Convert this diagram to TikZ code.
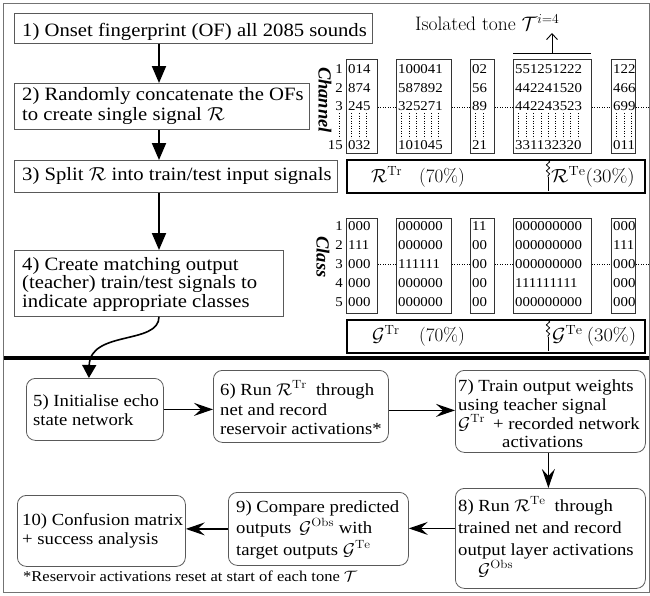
\RequirePackage{fix-cm}
\documentclass[tikz,border=0pt]{standalone}
\usepackage{fontspec}
\usepackage{graphicx}
\usetikzlibrary{arrows.meta,decorations.pathmorphing}
\newfontfamily\tnr{Liberation Serif}
\newcommand\fsz[2]{\fontsize{#1}{#2}\selectfont}
\newcommand\sx[1]{\scalebox{1.1}[1]{#1}}
\tikzset{
  frame/.style={draw=black!55, line width=0.8pt},
  sqbox/.style={draw=black!65, line width=0.8pt, anchor=north west, inner sep=0pt},
  rbox/.style={draw=black!65, line width=0.8pt, rounded corners=9pt, anchor=north west, inner sep=0pt},
  toptxt/.style={anchor=base west, inner sep=0pt, font=\tnr\fsz{18.8}{18}},
  bottxt/.style={anchor=base west, inner sep=0pt, font=\tnr\fsz{17}{17}},
  bigarr/.style={line width=2pt, -{Triangle[length=17pt,width=14pt]}},
  curvarr/.style={line width=1.6pt, -{Triangle[length=13pt,width=14pt]}},
  flowarr/.style={line width=1.2pt, -{Stealth[length=19pt,width=13pt,inset=7pt]}},
  mbox/.style={draw=black!80, line width=0.9pt, anchor=north west, inner sep=0pt},
  mtxt/.style={anchor=west, inner sep=0pt, font=\tnr\fsz{13.5}{13.5}},
  rownum/.style={anchor=east, inner sep=0pt, font=\tnr\fsz{13.5}{13.5}},
  vdots/.style={line width=0.8pt, dash pattern=on 0.8pt off 1.7pt},
  hdots/.style={line width=0.8pt, dash pattern=on 0.8pt off 1.7pt},
  splitbox/.style={draw=black, line width=2.4pt, anchor=north west, inner sep=0pt},
  pct/.style={anchor=base west, inner sep=0pt, font=\fsz{19}{19}},
  axlab/.style={rotate=-90, inner sep=0pt, font=\tnr\bfseries\itshape\fsz{18.5}{18.5}},
  wavy/.style={line width=0.8pt, decorate, decoration={snake, amplitude=1.6pt, segment length=6pt}},
}
\begin{document}
\begin{tikzpicture}[x=1pt,y=-1pt]
\useasboundingbox (0,0) rectangle (650,595);
\draw[frame] (3.5,3.5) rectangle (649,592.5);
\draw[line width=3.6pt] (3.5,358) -- (649,358);

% ---------- left column ----------
\coordinate (ax) at (159,0);
\node[sqbox, minimum width=358pt, minimum height=30pt] (b1) at (14,13) {};
\node[toptxt] (t1) at (22,36) {\sx{1) Onset fingerprint (OF) all 2085 sounds}};
\node[sqbox, minimum width=295pt, minimum height=46pt] (b2) at (14,83) {};
\node[toptxt] (t2a) at (22,100.5) {\sx{2) Randomly concatenate the OFs}};
\node[toptxt] (t2b) at (22,120) {\sx{to create single signal\hspace{5pt}$\mathcal{R}$}};
\node[sqbox, minimum width=323pt, minimum height=32pt] (b3) at (14,160) {};
\node[toptxt] (t3) at (22,180.5) {\sx{3) Split $\mathcal{R}$ into train/test input signals}};
\node[sqbox, minimum width=269pt, minimum height=66pt] (b4) at (14,250) {};
\node[toptxt] (t4a) at (22,270) {\sx{4) Create matching output}};
\node[toptxt] (t4b) at (22,288.5) {\sx{(teacher) train/test signals to}};
\node[toptxt] (t4c) at (22,307) {\sx{indicate appropriate classes}};

\draw[bigarr] (b1.south -| ax) -- (b2.north -| ax);
\draw[bigarr] (b2.south -| ax) -- (b3.north -| ax);
\draw[bigarr] (b3.south -| ax) -- (b4.north -| ax);

% ---------- bottom flow ----------
\node[rbox, minimum width=137pt, minimum height=62pt] (b5) at (26,378) {};
\node[bottxt] (t5a) at (33,406) {\sx{5) Initialise echo}};
\node[bottxt] (t5b) at (33,425) {\sx{state network}};
\node[rbox, minimum width=175pt, minimum height=72pt] (b6) at (213,370) {};
\node[bottxt] (t6a) at (220,395) {\sx{6) Run $\mathcal{R}^{\mathrm{Tr}}$\hspace{4pt} through}};
\node[bottxt] (t6b) at (220,415) {\sx{net and record}};
\node[bottxt] (t6c) at (220,434) {\sx{reservoir activations*}};
\node[rbox, minimum width=190pt, minimum height=82pt] (b7) at (455,370) {};
\node[bottxt] (t7a) at (458,391) {\sx{7) Train output weights}};
\node[bottxt] (t7b) at (458,410) {\sx{using teacher signal}};
\node[bottxt] (t7c) at (458,429) {\sx{$\mathcal{G}^{\mathrm{Tr}}$\hspace{3pt} + recorded network}};
\node[bottxt] (t7d) at (502,447) {\sx{activations}};
\node[rbox, minimum width=190pt, minimum height=100pt] (b8) at (455,488) {};
\node[bottxt] (t8a) at (458,511) {\sx{8) Run $\mathcal{R}^{\mathrm{Te}}$\hspace{4pt} through}};
\node[bottxt] (t8b) at (458,533) {\sx{trained net and record}};
\node[bottxt] (t8c) at (458,555) {\sx{output layer activations}};
\node[bottxt] (t8d) at (478,575) {\sx{$\mathcal{G}^{\mathrm{Obs}}$}};
\node[rbox, minimum width=180pt, minimum height=73pt] (b9) at (228,492) {};
\node[bottxt] (t9a) at (236,512) {\sx{9) Compare predicted}};
\node[bottxt] (t9b) at (236,533) {\sx{outputs\hspace{3pt} $\mathcal{G}^{\mathrm{Obs}}$ with}};
\node[bottxt] (t9c) at (236,555) {\sx{target outputs $\mathcal{G}^{\mathrm{Te}}$}};
\node[rbox, minimum width=168pt, minimum height=71pt] (b10) at (17,495) {};
\node[bottxt] (t10a) at (22,525) {\sx{10) Confusion matrix}};
\node[bottxt] (t10b) at (22,544) {\sx{+ success analysis}};
\node[anchor=base west, inner sep=0pt, font=\tnr\fsz{15}{15}] (fn) at (23,581)
  {\sx{*Reservoir activations reset at start of each tone $\mathcal{T}$}};

\draw[curvarr] (b4.south -| ax) .. controls (159,345) and (90,330) .. ([xshift=-6pt]b5.north);
\draw[flowarr] (b5.east) -- (b5.east -| b6.west);
\draw[flowarr] ([yshift=-4pt]b6.east) -- ([yshift=-4pt]b6.east -| b7.west);
\draw[flowarr] ([xshift=-2pt]b7.south) -- ([xshift=-2pt]b7.south |- b8.north);
\draw[flowarr] ([yshift=10pt]b8.west) -- ([yshift=10pt]b8.west -| b9.east);
\draw[flowarr] (b9.west) -- (b9.west -| b10.east);

% ---------- channel matrix ----------
\node[anchor=base west, inner sep=0pt, font=\fsz{19.5}{19.5}] (iso) at (415,30.5) {Isolated tone $\mathcal{T}^{i=4}$};
\node[axlab] (chl) at (325,100) {Channel};
\node[rownum] (cn1) at (343,69) {\sx{1}};
\node[rownum] (cn2) at (343,88) {\sx{2}};
\node[rownum] (cn3) at (343,106) {\sx{3}};
\node[rownum] (cn15) at (343,145) {\sx{15}};
\draw[vdots] (339,113) -- (339,138);
\foreach \nm/\xa/\w/\n/\ra/\rb/\rc/\rd in {A/346/31/3/014/874/245/032, B/396/55/6/100041/587892/325271/101045, C/470/24/2/02/56/89/21, D/513/78/9/551251222/442241520/442243523/331132320, E/611/24/3/122/466/699/011}{
  \node[mbox, minimum width=\w pt, minimum height=94pt] (ch\nm) at (\xa,59) {};
  \node[mtxt] (ch\nm a) at (\xa+2,69) {\sx{\ra}};
  \node[mtxt] (ch\nm b) at (\xa+2,88) {\sx{\rb}};
  \node[mtxt] (ch\nm c) at (\xa+2,106) {\sx{\rc}};
  \node[mtxt] (ch\nm d) at (\xa+2,145) {\sx{\rd}};
  \foreach \k in {1,...,\n} \draw[vdots] (\xa+2+\k*7.43-3.7,113) -- (\xa+2+\k*7.43-3.7,138);
}
\coordinate (r3) at (0,107);
\coordinate (r3end) at (649,107);
\draw[hdots] (chA.east |- r3) -- (chB.west |- r3);
\draw[hdots] (chB.east |- r3) -- (chC.west |- r3);
\draw[hdots] (chC.east |- r3) -- (chD.west |- r3);
\draw[hdots] (chD.east |- r3) -- (chE.west |- r3);
\draw[hdots] (chE.east |- r3) -- (r3end);

\coordinate (brl) at (513,53);
\coordinate (brr) at (591,53);
\coordinate (brm) at (552,53);
\coordinate (brtip) at (552,33);
\draw[line width=0.9pt] (brl) -- (brr);
\draw[line width=0.9pt, -{Straight Barb[length=6pt,width=11pt]}] (brm) -- (brtip);

\node[splitbox, minimum width=298pt, minimum height=33pt] (rsp) at (346,159) {};
\node[pct] (rtr) at (371,182) {$\mathcal{R}^{\mathrm{Tr}}$};
\node[pct] (r70) at (419,182) {(70\%)};
\node[pct] (rte) at (551,182) {\scalebox{1.08}[1]{$\mathcal{R}^{\mathrm{Te}}$(30\%)}};
\coordinate (rw1) at (548,160);
\coordinate (rw2) at (548,177);
\coordinate (rw3) at (548,191);
\draw[wavy] (rw1) -- (rw2);
\draw[line width=0.8pt] (rw2) -- (rw3);

% ---------- class matrix ----------
\node[axlab] (cll) at (323,257) {Class};
\foreach \i/\yy in {1/226,2/245,3/264,4/283,5/302}{
  \node[rownum] (kn\i) at (343,\yy) {\sx{\i}};
}
\foreach \nm/\xa/\w/\ra/\rb/\rc/\rd/\re in {A/346/31/000/111/000/000/000, B/396/55/000000/000000/111111/000000/000000, C/470/24/11/00/00/00/00, D/513/78/000000000/000000000/000000000/111111111/000000000, E/611/24/000/111/000/000/000}{
  \node[mbox, minimum width=\w pt, minimum height=95pt] (cl\nm) at (\xa,218) {};
  \node[mtxt] (cl\nm a) at (\xa+2,226) {\sx{\ra}};
  \node[mtxt] (cl\nm b) at (\xa+2,245) {\sx{\rb}};
  \node[mtxt] (cl\nm c) at (\xa+2,264) {\sx{\rc}};
  \node[mtxt] (cl\nm d) at (\xa+2,283) {\sx{\rd}};
  \node[mtxt] (cl\nm e) at (\xa+2,302) {\sx{\re}};
}
\coordinate (k3) at (0,264);
\coordinate (k3end) at (649,264);
\draw[hdots] (clA.east |- k3) -- (clB.west |- k3);
\draw[hdots] (clB.east |- k3) -- (clC.west |- k3);
\draw[hdots] (clC.east |- k3) -- (clD.west |- k3);
\draw[hdots] (clD.east |- k3) -- (clE.west |- k3);
\draw[hdots] (clE.east |- k3) -- (k3end);

\node[splitbox, minimum width=298pt, minimum height=33pt] (gsp) at (346,319) {};
\node[pct] (gtr) at (372,341) {$\mathcal{G}^{\mathrm{Tr}}$};
\node[pct] (g70) at (419,341) {(70\%)};
\node[pct] (gte) at (552,341) {\scalebox{1.08}[1]{$\mathcal{G}^{\mathrm{Te}}$\hspace{4pt}(30\%)}};
\coordinate (gw1) at (548,320);
\coordinate (gw2) at (548,337);
\coordinate (gw3) at (548,351);
\draw[wavy] (gw1) -- (gw2);
\draw[line width=0.8pt] (gw2) -- (gw3);
\end{tikzpicture}
\end{document}
